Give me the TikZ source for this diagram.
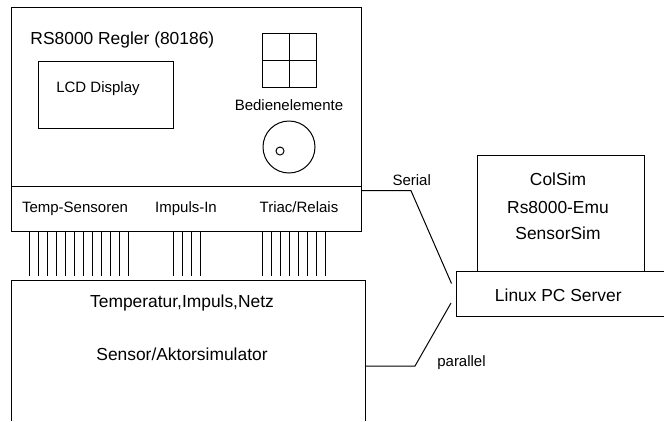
\documentclass[tikz,border=0pt]{standalone}
\usepackage{fontspec}
\setmainfont{Liberation Sans}
\usepackage{tikz}
\usetikzlibrary{positioning, calc}

\begin{document}
\begin{tikzpicture}[x=1pt, y=-1pt, line width=1pt,
    box/.style={draw, rectangle, inner sep=0pt, outer sep=0pt},
    openbox/.style={rectangle, inner sep=0pt, outer sep=0pt},
    txt/.style={inner sep=0pt, anchor=base, font=\fontsize{15}{18}\selectfont},
    txtbig/.style={inner sep=0pt, anchor=base, font=\fontsize{17.4}{21}\selectfont}]
                \path[use as bounding box] (0,0) rectangle (664,421);
                % RS8000 controller
                \node[box, minimum width=350pt, minimum height=179pt] (regler) at (186,96.5) {};
                \node[box, minimum width=350pt, minimum height=45pt] (ports) at (186,208.5) {};
                \node[txtbig, anchor=base west] (reglertitle) at (30,44) {RS8000 Regler (80186)};
                \node[box, minimum width=135pt, minimum height=67pt] (lcd) at (105.5,94.5) {};
                \node[txt] (lcdtext) at (98,92.7) {LCD Display};
                \node[box, minimum width=54pt, minimum height=54pt] (tasten) at (289,60) {};
                \draw (tasten.north) -- (tasten.south);
                \draw (tasten.west) -- (tasten.east);
                \node[txt] (bedien) at (289,110.7) {Bedienelemente};
                \node[draw, circle, inner sep=0pt, minimum size=52pt] (knob) at (289,147) {};
                \node[draw, circle, inner sep=0pt, minimum size=8pt] (knobdot) at (280,151) {};
                \node[txt] (temp) at (75,212.3) {Temp-Sensoren};
                \node[txt] (impuls) at (186,212.3) {Impuls-In};
                \node[txt] (triac) at (299,212.3) {Triac/Relais};
                % wires
                \foreach \x in {29,38,...,128} \draw (\x,0 |- ports.south) -- ++(0,45);
                \foreach \x in {173,182,...,200} \draw (\x,0 |- ports.south) -- ++(0,45);
                \foreach \x in {262,271,...,325} \draw (\x,0 |- ports.south) -- ++(0,45);
                % simulator (cut off at the bottom)
                \node[openbox, minimum width=354pt, minimum height=140.3pt] (sim) at (188.7,350.85) {};
                \draw (sim.south west) -- (sim.north west) -- (sim.north east) -- (sim.south east);
                \node[txtbig] (simtitle) at (182,307.7) {Temperatur,Impuls,Netz};
                \node[txtbig] (simname) at (182,360) {Sensor/Aktorsimulator};
                % PC side (cut off at the right)
                \node[box, minimum width=166.3pt, minimum height=116.7pt] (colsim) at (560.85,213.35) {};
                \node[txtbig] (colsimtext) at (558,185.7) {ColSim};
                \node[txtbig] (emutext) at (558,213.3) {Rs8000-Emu};
                \node[txtbig] (sensortext) at (558,239) {SensorSim};
                \node[openbox, minimum width=208pt, minimum height=44.3pt] (pc) at (560,293.85) {};
                \draw (pc.north east) -- (pc.north west) -- (pc.south west) -- (pc.south east);
                \node[txtbig] (pctext) at (558.3,301.7) {Linux PC Server};
                % links
                \coordinate (serknick) at (411,190.7);
                \coordinate (serend) at (451.5,283.5);
                \coordinate (parknick) at (415,366);
                \coordinate (parend) at (451,303);
                \draw (ports.east |- serknick) -- (serknick) -- (serend);
                \draw (sim.east |- parknick) -- (parknick) -- (parend);
                \node[txt] (serial) at (411.7,185.7) {Serial};
                \node[txt] (parallel) at (461.5,366) {parallel};
            \end{tikzpicture}
\end{document}
